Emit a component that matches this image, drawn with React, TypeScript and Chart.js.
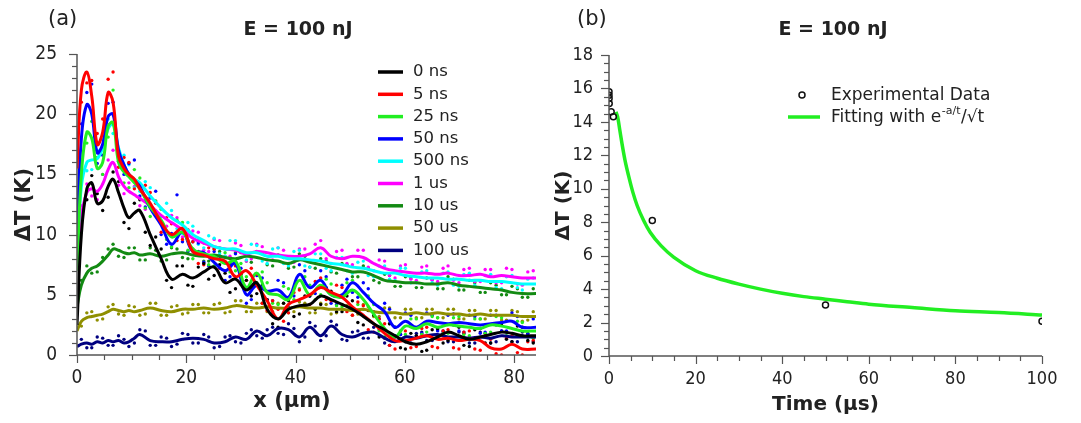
import React, { useEffect, useRef } from 'react';
import { Chart, registerables } from 'chart.js';
Chart.register(...registerables);

const SANS = '"DejaVu Sans", "Liberation Sans", sans-serif';
const COND = '"DejaVu Sans Condensed", "DejaVu Sans", sans-serif';
const AXIS_COLOR = '#555555';
const TEXT_COLOR = '#222222';

// ---------- Panel (a) ----------
const TITLE_A = 'E = 100 nJ';
const PANEL_A = '(a)';
const X_TITLE_A = 'x (\u00b5m)';
const Y_TITLE = '\u0394T (K)';
const SERIES_A = ['0 ns', '5 ns', '25 ns', '50 ns', '500 ns', '1 us', '10 us', '50 us', '100 us'];
const COLORS_A = ['#000000', '#ff0000', '#22ee22', '#0000ff', '#00ffff', '#ff00ff', '#138a13', '#8f8f00', '#000080'];

const XA = [0, 0.8, 1.8, 2.7, 3.7, 4.7, 5.7, 6.6, 7.6, 8.6, 9.5, 10.5, 11.5, 13.4, 15.4, 17.3, 19.3, 21.2, 23.2, 25.1, 27.1, 29.0, 31.0, 32.9, 34.8, 36.8, 38.7, 40.7, 42.6, 44.6, 46.5, 48.5, 50.4, 52.4, 54.3, 56.3, 58.2, 60.1, 62.1, 64.0, 66.0, 67.9, 69.9, 71.8, 73.8, 75.7, 77.7, 79.6, 81.5, 84];

const LINE_0NS = [2.5, 10, 13.8, 14.3, 12.6, 12.8, 14.0, 14.6, 13.5, 12.2, 11.4, 11.8, 12.0, 10.0, 8.0, 6.3, 6.7, 6.4, 6.9, 7.3, 6.0, 6.3, 5.4, 6.0, 3.8, 3.0, 3.8, 4.1, 4.2, 4.9, 4.6, 4.2, 3.8, 3.2, 2.6, 2.1, 1.6, 1.1, 0.9, 1.1, 1.5, 1.9, 1.6, 1.3, 1.5, 1.7, 1.9, 1.8, 1.6, 1.6];
const LINE_5NS = [15.5, 22.0, 23.5, 21.5, 17.5, 18.5, 21.8, 21.0, 16.5, 15.5, 15.0, 14.6, 13.8, 12.6, 11.0, 10.0, 10.5, 8.6, 8.3, 8.0, 7.8, 6.5, 7.0, 5.8, 4.5, 3.0, 4.2, 4.6, 5.0, 5.6, 5.2, 4.8, 4.0, 3.3, 2.6, 1.8, 1.2, 1.2, 1.4, 1.6, 1.3, 1.4, 1.2, 1.3, 1.2, 0.6, 0.5, 0.9, 0.5, 0.5];
const LINE_25NS = [7.0, 15.0, 18.5, 18.0, 15.5, 16.0, 19.0, 19.3, 16.0, 15.2, 14.8, 14.3, 13.8, 12.3, 11.2, 9.8, 10.2, 8.8, 8.4, 8.2, 7.6, 7.8, 5.6, 6.8, 5.2, 5.0, 4.6, 6.2, 5.0, 5.8, 5.0, 4.8, 5.4, 4.6, 3.4, 2.2, 1.5, 2.4, 2.2, 2.6, 2.3, 2.5, 2.4, 2.3, 2.2, 2.5, 2.4, 2.2, 2.0, 2.0];
const LINE_50NS = [10.0, 18.0, 20.8, 20.0, 16.8, 17.5, 19.8, 20.0, 17.0, 15.8, 15.0, 14.5, 14.0, 12.2, 10.8, 9.2, 10.2, 8.6, 8.5, 7.7, 7.0, 7.6, 5.0, 5.8, 5.3, 5.4, 4.8, 6.7, 5.6, 6.2, 5.0, 5.0, 6.0, 5.2, 4.3, 3.6, 2.3, 2.8, 2.3, 2.8, 2.7, 2.6, 2.7, 2.6, 2.5, 2.6, 2.7, 2.8, 2.3, 2.3];
const LINE_500NS = [8.5, 14.0, 16.0, 16.2, 16.3, 17.2, 18.8, 19.2, 17.2, 15.8, 15.0, 14.6, 14.3, 13.2, 12.2, 11.4, 10.8, 10.0, 9.5, 9.0, 8.8, 8.8, 8.5, 8.5, 8.2, 8.2, 8.0, 8.0, 7.9, 7.8, 7.6, 7.5, 7.3, 7.2, 7.0, 6.8, 6.8, 6.6, 6.5, 6.4, 6.4, 6.3, 6.3, 6.2, 6.2, 6.1, 6.1, 6.0, 5.9, 5.9];
const LINE_1US = [7.5, 11.5, 13.5, 13.8, 13.6, 14.2, 15.4, 16.0, 14.8, 14.0, 13.6, 13.3, 13.0, 12.4, 11.6, 11.0, 10.4, 9.7, 9.3, 9.0, 8.8, 8.7, 8.4, 8.6, 8.5, 8.3, 8.2, 8.2, 8.4, 8.9, 8.2, 8.0, 8.2, 8.1, 7.6, 7.2, 7.0, 6.9, 6.8, 6.8, 6.7, 6.8, 6.6, 6.6, 6.7, 6.5, 6.6, 6.5, 6.4, 6.4];
const LINE_10US = [4.0, 5.8, 6.8, 7.2, 7.4, 7.8, 8.3, 8.8, 8.7, 8.5, 8.4, 8.5, 8.3, 8.4, 8.2, 8.4, 8.5, 8.3, 8.2, 8.3, 8.1, 8.0, 8.2, 8.1, 7.9, 7.8, 7.6, 7.9, 7.7, 7.5, 7.3, 7.1, 6.9, 6.9, 6.6, 6.2, 6.1, 6.0, 6.0, 5.9, 5.9, 6.0, 5.8, 5.7, 5.6, 5.5, 5.4, 5.2, 5.1, 5.1];
const LINE_50US = [2.0, 2.8, 3.1, 3.2, 3.3, 3.4, 3.6, 3.8, 3.7, 3.6, 3.7, 3.6, 3.7, 3.9, 3.7, 3.6, 3.8, 3.8, 3.9, 3.8, 3.9, 4.1, 4.0, 3.9, 4.0, 3.9, 3.9, 4.0, 3.9, 3.9, 3.8, 3.8, 3.7, 3.8, 3.6, 3.5, 3.5, 3.4, 3.5, 3.4, 3.5, 3.4, 3.4, 3.3, 3.4, 3.3, 3.3, 3.3, 3.2, 3.2];
const LINE_100US = [0.7, 0.9, 1.0, 0.9, 1.1, 1.0, 1.2, 1.1, 1.2, 1.0, 1.1, 1.4, 1.7, 1.2, 1.1, 1.1, 1.3, 1.4, 1.3, 1.0, 1.1, 1.5, 1.3, 2.0, 1.6, 2.2, 2.1, 1.5, 2.3, 1.6, 2.4, 1.7, 1.5, 1.8, 1.9, 1.4, 1.1, 1.5, 1.4, 1.6, 1.7, 1.5, 1.5, 1.4, 1.5, 1.4, 1.6, 1.5, 1.5, 1.5];

// measured scatter points, first set
const XD = [0.8, 2.7, 4.7, 6.6, 8.6, 10.5, 12.5, 14.4, 16.4, 18.3, 20.3, 22.2, 24.1, 26.1, 28.0, 30.0, 31.9, 33.9, 35.8, 37.8, 39.7, 41.7, 43.6, 45.6, 47.5, 49.4, 51.4, 53.3, 55.3, 57.2, 59.2, 61.1, 63.1, 65.0, 67.0, 68.9, 70.8, 72.8, 74.7, 76.7, 78.6, 80.6, 82.5];
const DOTS_0NS = [11.2, 14.9, 12.0, 15.2, 11.0, 12.6, 10.2, 9.8, 6.2, 7.4, 5.8, 7.3, 6.3, 7.5, 5.2, 6.7, 4.9, 5.8, 2.6, 4.3, 3.2, 4.9, 3.8, 5.6, 3.6, 4.9, 2.7, 3.7, 1.5, 2.6, 0.6, 1.8, 0.3, 2.1, 1.0, 2.5, 0.8, 2.1, 1.0, 2.5, 1.3, 2.4, 1.2];
const DOTS_5NS = [21.0, 22.8, 19.6, 23.5, 16.4, 13.8, 14.1, 12.6, 11.4, 9.5, 10.4, 7.6, 8.9, 7.2, 8.0, 5.9, 7.2, 4.3, 4.5, 2.8, 5.2, 4.0, 6.1, 4.6, 5.8, 3.6, 4.4, 2.1, 3.0, 0.8, 2.0, 0.6, 2.2, 0.7, 2.0, 0.6, 1.9, 0.5, 1.6, 0.1, 1.4, 0.2, 1.1];
const DOTS_25NS = [16.2, 19.4, 15.0, 22.0, 14.3, 15.4, 12.2, 12.8, 9.6, 11.2, 8.7, 9.5, 7.5, 8.9, 6.9, 7.6, 5.4, 6.9, 4.3, 5.7, 4.6, 6.5, 4.6, 6.3, 4.1, 6.0, 4.2, 4.9, 2.0, 2.6, 1.3, 3.0, 1.7, 3.2, 1.8, 3.1, 1.7, 3.0, 1.8, 3.2, 1.6, 2.8, 1.5];
const DOTS_50NS = [19.2, 22.5, 16.6, 21.0, 15.0, 16.2, 12.3, 13.6, 9.2, 13.3, 8.6, 9.3, 7.4, 8.2, 6.5, 7.2, 4.6, 6.4, 4.5, 6.0, 4.9, 7.0, 5.1, 6.5, 4.2, 6.3, 4.8, 5.5, 3.0, 3.8, 1.7, 3.3, 1.8, 3.3, 1.9, 3.4, 1.9, 3.2, 1.9, 3.3, 2.0, 3.2, 1.7];
const DOTS_500NS = [15.0, 15.4, 17.9, 18.4, 16.6, 13.9, 14.4, 12.0, 12.6, 10.5, 11.0, 9.2, 9.9, 8.4, 9.5, 8.1, 9.2, 7.8, 8.8, 7.6, 8.6, 7.4, 8.4, 7.2, 8.1, 7.0, 7.7, 6.6, 7.4, 6.3, 7.2, 6.0, 6.9, 6.0, 6.8, 5.8, 6.7, 5.8, 6.6, 5.6, 6.5, 5.6, 6.3];
const DOTS_1US = [12.4, 13.2, 15.0, 17.0, 13.4, 14.0, 12.1, 12.8, 10.7, 11.4, 9.5, 10.2, 8.6, 9.5, 8.2, 9.1, 8.0, 9.0, 7.9, 8.7, 7.7, 8.8, 9.2, 8.0, 8.6, 7.6, 8.7, 7.3, 7.9, 6.6, 7.4, 6.3, 7.3, 6.2, 7.2, 6.2, 7.1, 6.1, 7.1, 6.0, 7.2, 5.9, 6.9];
const DOTS_10US = [6.2, 6.8, 8.1, 9.2, 8.1, 8.9, 7.9, 8.7, 7.9, 8.8, 8.0, 8.6, 7.8, 8.6, 7.6, 8.5, 7.7, 8.4, 7.4, 8.1, 7.3, 8.2, 7.2, 7.8, 6.8, 7.5, 6.5, 7.2, 6.0, 6.6, 5.7, 6.4, 5.6, 6.3, 5.5, 6.3, 5.4, 6.0, 5.2, 5.8, 5.0, 5.5, 4.8];
const DOTS_50US = [2.4, 3.6, 3.0, 4.2, 3.3, 4.0, 3.4, 4.3, 3.3, 4.1, 3.5, 4.2, 3.5, 4.3, 3.6, 4.5, 3.6, 4.3, 3.6, 4.3, 3.6, 4.3, 3.5, 4.2, 3.5, 4.1, 3.4, 4.0, 3.2, 3.9, 3.1, 3.8, 3.1, 3.8, 3.1, 3.8, 3.0, 3.7, 3.0, 3.7, 2.9, 3.6, 2.9];
const DOTS_100US = [1.3, 0.6, 1.4, 0.8, 1.3, 1.0, 2.0, 0.8, 1.4, 0.9, 1.7, 1.0, 1.5, 0.7, 1.6, 1.0, 2.1, 1.4, 2.3, 1.7, 2.2, 1.5, 2.4, 1.6, 2.5, 1.2, 2.0, 1.4, 2.1, 0.8, 1.7, 1.0, 1.9, 1.2, 2.0, 1.1, 1.8, 1.0, 1.8, 1.1, 1.9, 1.1, 1.8];

// measured scatter points, second set
const XD2 = [1.8, 3.7, 5.7, 7.6, 9.5, 11.5, 13.4, 15.4, 17.3, 19.3, 21.2, 23.2, 25.1, 27.1, 29.0, 31.0, 32.9, 34.8, 36.8, 38.7, 40.7, 42.6, 44.6, 46.5, 48.5, 50.4, 52.4, 54.3, 56.3, 58.2, 60.1, 62.1, 64.0, 66.0, 67.9, 69.9, 71.8, 73.8, 75.7, 77.7, 79.6, 81.5, 83.5];
const DOTS2_0NS = [12.9, 13.4, 13.1, 14.4, 10.5, 12.9, 9.1, 8.8, 5.6, 7.4, 5.7, 7.6, 6.6, 6.8, 5.5, 6.2, 5.1, 4.6, 2.3, 4.5, 3.4, 4.9, 4.2, 5.3, 3.6, 4.5, 2.5, 3.3, 1.4, 2.3, 0.5, 1.6, 0.4, 2.2, 1.2, 2.3, 0.7, 2.2, 1.0, 2.6, 1.1, 2.3, 1.0];
const DOTS2_5NS = [22.6, 18.4, 22.9, 15.6, 16.0, 13.0, 13.5, 10.2, 10.9, 9.6, 9.4, 7.5, 8.8, 7.0, 7.4, 6.2, 6.7, 3.7, 3.8, 3.5, 5.4, 4.2, 6.4, 4.5, 5.6, 3.3, 4.1, 1.9, 2.6, 0.5, 2.0, 0.7, 2.3, 0.6, 2.1, 0.5, 2.0, 0.4, 1.3, 0.0, 1.6, 0.0, 1.2];
const DOTS2_25NS = [17.6, 16.4, 18.1, 17.0, 13.9, 14.7, 11.5, 12.1, 9.0, 11.0, 8.0, 9.3, 7.4, 8.5, 7.0, 6.5, 6.0, 6.0, 4.2, 5.5, 5.5, 5.8, 5.0, 5.9, 4.0, 6.2, 3.8, 4.2, 1.5, 2.3, 1.7, 3.0, 1.9, 3.1, 1.8, 3.2, 1.6, 3.0, 1.9, 3.1, 1.6, 2.7, 1.4];
const DOTS2_50NS = [21.8, 15.9, 20.9, 16.1, 15.9, 13.2, 13.1, 10.0, 10.1, 9.4, 9.4, 7.7, 8.6, 6.2, 8.4, 4.3, 6.6, 4.6, 6.2, 4.0, 7.5, 4.9, 7.0, 4.3, 5.8, 5.2, 6.0, 3.6, 4.3, 1.6, 3.5, 1.6, 3.5, 2.0, 3.3, 2.0, 3.3, 1.8, 3.3, 2.0, 3.5, 1.6, 3.0];
const DOTS2_500NS = [15.3, 17.0, 19.6, 16.4, 15.8, 13.6, 13.9, 11.5, 12.0, 10.1, 10.7, 8.9, 9.7, 8.2, 9.5, 7.9, 9.1, 7.6, 8.9, 7.4, 8.7, 7.3, 8.4, 7.0, 8.1, 6.8, 7.8, 6.5, 7.4, 6.2, 7.2, 6.0, 7.0, 5.8, 6.9, 5.7, 6.8, 5.6, 6.7, 5.5, 6.6, 5.4, 6.4];
const DOTS2_1US = [14.2, 12.9, 16.2, 14.1, 14.3, 12.4, 13.0, 11.0, 11.6, 9.8, 10.3, 8.7, 9.6, 8.2, 9.3, 7.8, 9.2, 7.9, 8.9, 7.6, 8.8, 7.8, 9.5, 7.6, 8.7, 7.5, 8.7, 7.0, 7.8, 6.4, 7.5, 6.2, 7.4, 6.1, 7.4, 6.0, 7.2, 6.1, 7.1, 6.0, 7.1, 5.8, 7.0];
const DOTS2_10US = [7.4, 6.9, 8.8, 8.2, 8.9, 7.9, 8.9, 7.8, 8.9, 8.1, 8.8, 7.8, 8.8, 7.7, 8.5, 7.8, 8.6, 7.5, 8.3, 7.2, 8.4, 7.3, 8.0, 6.9, 7.6, 6.5, 7.4, 6.2, 6.7, 5.7, 6.5, 5.6, 6.4, 5.5, 6.5, 5.4, 6.2, 5.2, 6.0, 5.0, 5.7, 4.8, 5.5];
const DOTS2_50US = [3.5, 2.9, 4.0, 3.4, 4.1, 3.3, 4.3, 3.3, 4.0, 3.4, 4.2, 3.5, 4.2, 3.5, 4.5, 3.6, 4.3, 3.6, 4.3, 3.5, 4.4, 3.5, 4.3, 3.4, 4.2, 3.3, 4.2, 3.2, 3.9, 3.1, 3.8, 3.1, 3.8, 3.1, 3.8, 3.0, 3.7, 3.0, 3.7, 2.9, 3.7, 2.8, 3.6];
const DOTS2_100US = [0.6, 1.5, 0.8, 1.6, 0.7, 2.1, 0.8, 1.5, 0.7, 1.8, 1.0, 1.7, 0.6, 1.5, 1.1, 1.8, 1.6, 2.1, 1.8, 2.6, 1.1, 2.7, 1.2, 2.8, 1.3, 1.9, 1.4, 2.3, 1.0, 1.5, 1.1, 1.8, 1.2, 2.1, 1.1, 1.9, 1.0, 1.9, 1.0, 2.0, 1.1, 1.9, 1.1];

const LINES_A = [LINE_0NS, LINE_5NS, LINE_25NS, LINE_50NS, LINE_500NS, LINE_1US, LINE_10US, LINE_50US, LINE_100US];
const DOTS_A = [DOTS_0NS, DOTS_5NS, DOTS_25NS, DOTS_50NS, DOTS_500NS, DOTS_1US, DOTS_10US, DOTS_50US, DOTS_100US];
const DOTS2_A = [DOTS2_0NS, DOTS2_5NS, DOTS2_25NS, DOTS2_50NS, DOTS2_500NS, DOTS2_1US, DOTS2_10US, DOTS2_50US, DOTS2_100US];

const A_X_MIN = 0, A_X_MAX = 84, A_X_MAJOR = 20, A_X_MINOR = 5;
const A_Y_MIN = 0, A_Y_MAX = 25, A_Y_MAJOR = 5, A_Y_MINOR = 1;

// ---------- Panel (b) ----------
const TITLE_B = 'E = 100 nJ';
const PANEL_B = '(b)';
const X_TITLE_B = 'Time (\u00b5s)';
const EXP_LABEL = 'Experimental Data';
const FIT_LABEL_MAIN = 'Fitting with e';
const FIT_LABEL_SUP = '-a/t';
const FIT_LABEL_END = '/\u221at';
const EXP_T = [0, 0.005, 0.025, 0.05, 0.5, 1, 10, 50, 100];
const EXP_Y = [15.8, 15.6, 15.4, 15.1, 14.6, 14.3, 8.1, 3.05, 2.08];
const FIT_T = [1.6, 2, 2.5, 3, 3.7, 4.5, 5.5, 6.5, 8, 9.5, 12, 15, 20, 25, 30, 35, 40, 45, 50, 55, 60, 70, 80, 90, 100];
const FIT_Y = [14.6, 14.3, 13.5, 12.7, 11.7, 10.8, 9.8, 9.0, 8.1, 7.4, 6.6, 5.9, 5.1, 4.65, 4.3, 4.0, 3.75, 3.55, 3.4, 3.25, 3.1, 2.9, 2.7, 2.6, 2.45];
const B_X_MIN = 0, B_X_MAX = 100, B_X_MAJOR = 20, B_X_MINOR = 5;
const B_Y_MIN = 0, B_Y_MAX = 18, B_Y_MAJOR = 2, B_Y_MINOR = 0.5;

function isMajor(v: number, major: number) {
  return Math.abs(v / major - Math.round(v / major)) < 1e-6;
}

function drawAxes(ctx: any, a: any, xs: any, ys: any, xMinor: number, xMajor: number, yMinor: number, yMajor: number) {
  ctx.strokeStyle = AXIS_COLOR;
  ctx.lineWidth = 1.5;
  ctx.beginPath();
  ctx.moveTo(a.left, a.top);
  ctx.lineTo(a.left, a.bottom);
  ctx.lineTo(a.right, a.bottom);
  ctx.stroke();
  ctx.lineWidth = 1.2;
  const nx = Math.floor((xs.max - xs.min) / xMinor + 1e-6);
  for (let i = 0; i <= nx; i++) {
    const v = xs.min + i * xMinor;
    const px = Math.round(xs.getPixelForValue(v)) + 0.5;
    ctx.beginPath();
    ctx.moveTo(px, a.bottom);
    ctx.lineTo(px, a.bottom + (isMajor(v, xMajor) ? 8 : 5));
    ctx.stroke();
  }
  const ny = Math.floor((ys.max - ys.min) / yMinor + 1e-6);
  for (let i = 0; i <= ny; i++) {
    const v = ys.min + i * yMinor;
    const py = Math.round(ys.getPixelForValue(v)) + 0.5;
    ctx.beginPath();
    ctx.moveTo(a.left, py);
    ctx.lineTo(a.left - (isMajor(v, yMajor) ? 8 : 5), py);
    ctx.stroke();
  }
}

function drawTexts(ctx: any, panel: string, panelX: number, title: string, titleX: number, xTitle: string, xTitleX: number, xTitleY: number, yTitleX: number, yTitleY: number, axisFont: number) {
  ctx.fillStyle = TEXT_COLOR;
  ctx.textBaseline = 'middle';
  ctx.textAlign = 'left';
  ctx.font = `21px ${SANS}`;
  ctx.fillText(panel, panelX, 20);
  ctx.textAlign = 'center';
  ctx.font = `bold 19px ${SANS}`;
  ctx.fillText(title, titleX, 30);
  ctx.font = `bold ${axisFont}px ${SANS}`;
  ctx.fillText(xTitle, xTitleX, xTitleY);
  ctx.save();
  ctx.translate(yTitleX, yTitleY);
  ctx.rotate(-Math.PI / 2);
  ctx.fillText(Y_TITLE, 0, 0);
  ctx.restore();
}

const decoA = {
  id: 'decoA',
  afterDraw(chart: any) {
    const ctx = chart.ctx;
    const a = chart.chartArea;
    ctx.save();
    drawAxes(ctx, a, chart.scales.x, chart.scales.y, A_X_MINOR, A_X_MAJOR, A_Y_MINOR, A_Y_MAJOR);
    drawTexts(ctx, PANEL_A, 48, TITLE_A, 298, X_TITLE_A, 292, 402, 25, (a.top + a.bottom) / 2, 21);
    ctx.textAlign = 'left';
    ctx.textBaseline = 'middle';
    ctx.font = `16.5px ${SANS}`;
    SERIES_A.forEach((name, i) => {
      const y = 72 + i * 22.3;
      ctx.strokeStyle = COLORS_A[i];
      ctx.lineWidth = 3.5;
      ctx.beginPath();
      ctx.moveTo(378, y);
      ctx.lineTo(403, y);
      ctx.stroke();
      ctx.fillStyle = TEXT_COLOR;
      ctx.fillText(name, 413, y);
    });
    ctx.restore();
  },
};

const decoB = {
  id: 'decoB',
  afterDraw(chart: any) {
    const ctx = chart.ctx;
    const a = chart.chartArea;
    ctx.save();
    drawAxes(ctx, a, chart.scales.x, chart.scales.y, B_X_MINOR, B_X_MAJOR, B_Y_MINOR, B_Y_MAJOR);
    drawTexts(ctx, PANEL_B, 37, TITLE_B, 293, X_TITLE_B, (a.left + a.right) / 2, 405, 24, (a.top + a.bottom) / 2, 20);
    ctx.textAlign = 'left';
    ctx.textBaseline = 'middle';
    ctx.strokeStyle = '#111111';
    ctx.lineWidth = 1.5;
    ctx.beginPath();
    ctx.arc(262, 95, 3, 0, Math.PI * 2);
    ctx.stroke();
    ctx.fillStyle = TEXT_COLOR;
    ctx.font = `17px ${SANS}`;
    ctx.fillText(EXP_LABEL, 291, 96);
    ctx.strokeStyle = '#22ee22';
    ctx.lineWidth = 3.5;
    ctx.beginPath();
    ctx.moveTo(248, 117);
    ctx.lineTo(280, 117);
    ctx.stroke();
    let x = 291;
    ctx.fillText(FIT_LABEL_MAIN, x, 118);
    x += ctx.measureText(FIT_LABEL_MAIN).width + 0.5;
    ctx.font = `11px ${SANS}`;
    ctx.fillText(FIT_LABEL_SUP, x, 111);
    x += ctx.measureText(FIT_LABEL_SUP).width + 0.5;
    ctx.font = `17px ${SANS}`;
    ctx.fillText(FIT_LABEL_END, x, 118);
    ctx.restore();
  },
};

function configA(): any {
  const datasets: any[] = [];
  SERIES_A.forEach((name, i) => {
    datasets.push({
      type: 'line',
      label: name,
      data: XA.map((x, j) => ({ x, y: LINES_A[i][j] })),
      borderColor: COLORS_A[i],
      backgroundColor: COLORS_A[i],
      borderWidth: 3,
      pointRadius: 0,
      tension: 0.4,
      fill: false,
      clip: 0,
      order: 1,
    });
  });
  SERIES_A.forEach((name, i) => {
    const pts = XD.map((x, j) => ({ x, y: DOTS_A[i][j] })).concat(XD2.map((x, j) => ({ x, y: DOTS2_A[i][j] })));
    datasets.push({
      type: 'scatter',
      label: name + ' data',
      data: pts,
      backgroundColor: COLORS_A[i],
      borderWidth: 0,
      pointRadius: 1.7,
      showLine: false,
      clip: 0,
      order: 2,
    });
  });
  return {
    type: 'line',
    data: { datasets },
    options: {
      responsive: false,
      animation: false,
      events: [],
      layout: { padding: { left: 0, top: 54, right: 1, bottom: 0 } },
      plugins: { legend: { display: false }, tooltip: { enabled: false }, title: { display: false } },
      scales: {
        x: {
          type: 'linear',
          min: A_X_MIN,
          max: A_X_MAX,
          ticks: { stepSize: A_X_MAJOR, includeBounds: false, autoSkip: false, maxRotation: 0, padding: 12, color: TEXT_COLOR, font: { family: COND, size: 19 } },
          grid: { display: true, drawOnChartArea: false, drawTicks: false },
          border: { display: false },
          afterFit: (s: any) => { s.height = 68; },
        },
        y: {
          type: 'linear',
          min: A_Y_MIN,
          max: A_Y_MAX,
          ticks: { stepSize: A_Y_MAJOR, includeBounds: false, autoSkip: false, padding: 20, color: TEXT_COLOR, font: { family: COND, size: 19 } },
          grid: { display: true, drawOnChartArea: false, drawTicks: false },
          border: { display: false },
          afterFit: (s: any) => { s.width = 77; },
        },
      },
    },
    plugins: [decoA],
  };
}

function configB(): any {
  return {
    type: 'line',
    data: {
      datasets: [
        {
          type: 'scatter',
          label: EXP_LABEL,
          data: EXP_T.map((x, j) => ({ x, y: EXP_Y[j] })),
          borderColor: '#111111',
          backgroundColor: 'rgba(255,255,255,0)',
          borderWidth: 1.5,
          pointRadius: 3,
          showLine: false,
          clip: 0,
          order: 1,
        },
        {
          type: 'line',
          label: 'Fitting',
          data: FIT_T.map((x, j) => ({ x, y: FIT_Y[j] })),
          borderColor: '#22ee22',
          borderWidth: 3.5,
          pointRadius: 0,
          cubicInterpolationMode: 'monotone',
          fill: false,
          clip: 0,
          order: 2,
        },
      ],
    },
    options: {
      responsive: false,
      animation: false,
      events: [],
      layout: { padding: { left: 0, top: 55, right: 39, bottom: 0 } },
      plugins: { legend: { display: false }, tooltip: { enabled: false }, title: { display: false } },
      scales: {
        x: {
          type: 'linear',
          min: B_X_MIN,
          max: B_X_MAX,
          ticks: { stepSize: B_X_MAJOR, autoSkip: false, maxRotation: 0, padding: 13, color: TEXT_COLOR, font: { family: COND, size: 18 } },
          grid: { display: true, drawOnChartArea: false, drawTicks: false },
          border: { display: false },
          afterFit: (s: any) => { s.height = 67; },
        },
        y: {
          type: 'linear',
          min: B_Y_MIN,
          max: B_Y_MAX,
          ticks: { stepSize: B_Y_MAJOR, autoSkip: false, padding: 16, color: TEXT_COLOR, font: { family: COND, size: 18 } },
          grid: { display: true, drawOnChartArea: false, drawTicks: false },
          border: { display: false },
          afterFit: (s: any) => { s.width = 69; },
        },
      },
    },
    plugins: [decoB],
  };
}

export default function App() {
  const refA = useRef<HTMLCanvasElement | null>(null);
  const refB = useRef<HTMLCanvasElement | null>(null);
  useEffect(() => {
    const ca = new Chart(refA.current as HTMLCanvasElement, configA());
    const cb = new Chart(refB.current as HTMLCanvasElement, configB());
    return () => {
      ca.destroy();
      cb.destroy();
    };
  }, []);
  return (
    <div style={{ position: 'absolute', left: 0, top: 0, width: 1081, height: 423, background: '#ffffff' }}>
      <canvas ref={refA} width={540} height={423} style={{ position: 'absolute', left: 0, top: 0, width: 540, height: 423 }} />
      <canvas ref={refB} width={541} height={423} style={{ position: 'absolute', left: 540, top: 0, width: 541, height: 423 }} />
    </div>
  );
}
